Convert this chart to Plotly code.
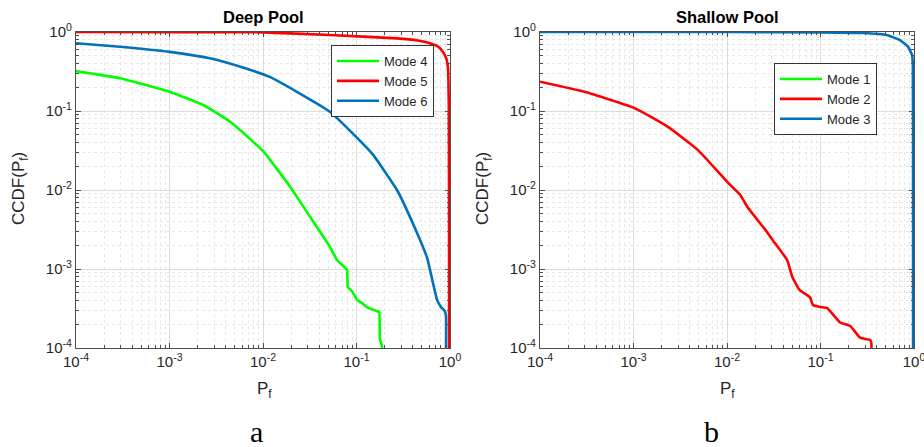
import plotly.graph_objects as go

# ---------------- data ----------------
# Deep Pool
deep_m4_p = [1e-4, 2.95e-4, 1e-3, 2.3e-3, 4.45e-3, 7.8e-3, 0.0104, 0.0195, 0.0318, 0.052, 0.062, 0.079,
             0.081, 0.09, 0.101, 0.115, 0.129, 0.17, 0.175, 0.178, 0.186, 0.19]
deep_m4_c = [0.32, 0.26, 0.175, 0.119, 0.073, 0.041, 0.0295, 0.011, 0.0046, 0.0019, 0.0013, 0.00098,
             0.00059, 0.00052, 0.00041, 0.00037, 0.00033, 0.00029, 0.00029, 0.00013, 0.00011, 0.00009]
deep_m5_p = [1e-4, 1e-3, 1e-2, 0.052, 0.27, 0.45, 0.61, 0.75, 0.84, 0.92, 0.952, 0.972, 0.977, 0.978]
deep_m5_c = [1.0, 0.995, 0.99, 0.916, 0.83, 0.78, 0.72, 0.65, 0.56, 0.45, 0.35, 0.1, 0.001, 0.00009]
deep_m6_p = [1e-4, 2.95e-4, 1e-3, 2.7e-3, 6.1e-3, 0.0118, 0.023, 0.052, 0.101, 0.15, 0.271,
             0.40, 0.567, 0.726, 0.80, 0.885, 0.906, 0.906]
deep_m6_c = [0.72, 0.65, 0.56, 0.465, 0.355, 0.27, 0.175, 0.098, 0.046, 0.028, 0.01,
             0.0038, 0.0014, 0.00041, 0.00033, 0.00029, 0.00025, 0.00009]

# Shallow Pool (Mode 1 has no samples inside the plotted range)
shal_m1_p = [10.0]
shal_m1_c = [10.0]
shal_m2_p = [1e-4, 3.0e-4, 1.04e-3, 2.34e-3, 4.9e-3, 0.0103, 0.0138, 0.0167, 0.027, 0.031, 0.044, 0.05,
             0.06, 0.077, 0.083, 0.1, 0.118, 0.162, 0.208, 0.265, 0.34, 0.35, 0.35]
shal_m2_c = [0.235, 0.175, 0.108, 0.063, 0.032, 0.0123, 0.0087, 0.006, 0.0029, 0.0023, 0.0013, 0.00079,
             0.00054, 0.00044, 0.00035, 0.00033, 0.00032, 0.00021, 0.00019, 0.000135, 0.000126, 0.000115, 0.00009]
shal_m3_p = [1e-4, 1e-3, 1e-2, 0.1, 0.285, 0.51, 0.707, 0.863, 0.953, 0.972, 0.977, 0.978]
shal_m3_c = [1.0, 1.0, 1.0, 0.99, 0.97, 0.916, 0.79, 0.65, 0.51, 0.38, 0.01, 0.00009]

tick_vals = [1e-4, 1e-3, 1e-2, 1e-1, 1]
tick_text = ["10<sup>-4</sup>", "10<sup>-3</sup>", "10<sup>-2</sup>", "10<sup>-1</sup>", "10<sup>0</sup>"]
minor_vals = [m * 10.0 ** e for e in range(-4, 0) for m in range(2, 10)]

GREEN = "#00FF00"
RED = "#FF0000"
BLUE = "#0072BD"
LW = 2.6

fig = go.Figure()

def add(x, y, name, color, xa, ya, legend):
    fig.add_trace(go.Scatter(x=x, y=y, name=name, mode="lines",
                             line=dict(color=color, width=LW, shape="spline", smoothing=0.4),
                             xaxis=xa, yaxis=ya, legend=legend))

add(deep_m4_p, deep_m4_c, "Mode 4", GREEN, "x", "y", "legend")
add(deep_m5_p, deep_m5_c, "Mode 5", RED, "x", "y", "legend")
add(deep_m6_p, deep_m6_c, "Mode 6", BLUE, "x", "y", "legend")
add(shal_m1_p, shal_m1_c, "Mode 1", GREEN, "x2", "y2", "legend2")
add(shal_m2_p, shal_m2_c, "Mode 2", RED, "x2", "y2", "legend2")
add(shal_m3_p, shal_m3_c, "Mode 3", BLUE, "x2", "y2", "legend2")

W, H = 924, 447
font_fam = "Liberation Sans, Arial, sans-serif"
AX_COLOR = "#4d4d4d"

def axis_common():
    return dict(
        type="log", range=[-4, 0], automargin=False,
        tickmode="array", tickvals=tick_vals, ticktext=tick_text,
        ticks="inside", ticklen=5, tickcolor=AX_COLOR, tickwidth=1,
        showline=True, linecolor=AX_COLOR, linewidth=1.2, mirror="ticks",
        showgrid=True, gridcolor="#dcdcdc", gridwidth=1,
        minor=dict(tickmode="array", tickvals=minor_vals,
                   ticks="inside", ticklen=3, tickcolor=AX_COLOR,
                   showgrid=True, gridcolor="#e8e8e8", griddash="dot", gridwidth=1),
        tickfont=dict(family=font_fam, size=15, color="#262626"),
        ticklabeloverflow="allow",
        zeroline=False,
    )

y_dom = [1 - 348 / H, 1 - 32 / H]
xl = [76 / W, 450 / W]
xr = [540 / W, 914 / W]

leg_common = dict(xanchor="left", yanchor="top", bgcolor="white", bordercolor="#333333",
                  borderwidth=1, font=dict(family=font_fam, size=13, color="#262626"),
                  tracegroupgap=0, itemwidth=42)

fig.update_layout(
    width=W, height=H,
    margin=dict(l=0, r=0, t=0, b=0, pad=0, autoexpand=False),
    paper_bgcolor="white", plot_bgcolor="white",
    font=dict(family=font_fam, color="#262626"),
    xaxis=dict(domain=xl, anchor="y", **axis_common()),
    yaxis=dict(domain=y_dom, anchor="x", **axis_common()),
    xaxis2=dict(domain=xr, anchor="y2", **axis_common()),
    yaxis2=dict(domain=y_dom, anchor="x2", **axis_common()),
    legend=dict(x=331 / W, y=1 - 45 / H, **leg_common),
    legend2=dict(x=774 / W, y=1 - 63 / H, **leg_common),
    showlegend=True,
)

ann = []
ann.append(dict(text="<b>Deep Pool</b>", x=263 / W, y=1 - 17 / H, xref="paper", yref="paper",
                xanchor="center", yanchor="middle",
                showarrow=False, font=dict(size=16.5, family=font_fam, color="black")))
ann.append(dict(text="<b>Shallow Pool</b>", x=727 / W, y=1 - 17 / H, xref="paper", yref="paper",
                xanchor="center", yanchor="middle",
                showarrow=False, font=dict(size=16.5, family=font_fam, color="black")))
for xc in (264, 727):
    ann.append(dict(text="P<sub>f</sub>", x=xc / W, y=1 - 390 / H, xref="paper", yref="paper",
                    xanchor="center", yanchor="middle",
                    showarrow=False, font=dict(size=17, family=font_fam, color="#262626")))
for xc in (20, 484):
    ann.append(dict(text="CCDF(P<sub>f</sub>)", x=xc / W, y=1 - 189 / H, xref="paper", yref="paper",
                    xanchor="center", yanchor="middle",
                    showarrow=False, textangle=-90, font=dict(size=17, family=font_fam, color="#262626")))
ann.append(dict(text="a", x=256 / W, y=1 - 431 / H, xref="paper", yref="paper",
                xanchor="center", yanchor="middle",
                showarrow=False, font=dict(size=30, family="Liberation Serif, Times New Roman, serif", color="black")))
ann.append(dict(text="b", x=711 / W, y=1 - 431 / H, xref="paper", yref="paper",
                xanchor="center", yanchor="middle",
                showarrow=False, font=dict(size=30, family="Liberation Serif, Times New Roman, serif", color="black")))
fig.update_layout(annotations=ann)

fig.write_html("out.html", config={"displayModeBar": False},
               post_script="document.body.style.margin='0px';")
